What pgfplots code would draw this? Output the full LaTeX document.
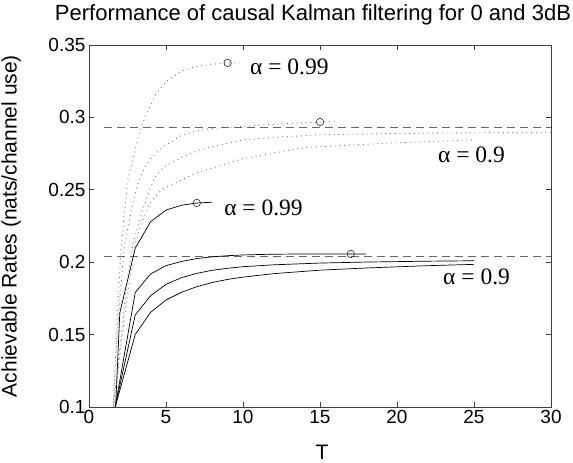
\documentclass[border=0pt]{standalone}
\usepackage{fontspec}
\setmainfont{Liberation Sans}
\newfontfamily\lserif{Liberation Serif}
\usepackage{pgfplots}
\pgfplotsset{compat=1.18}
\begin{document}
\begin{tikzpicture}
\useasboundingbox (0,0) rectangle (573pt,463pt);
\begin{axis}[
  at={(89pt,56pt)}, anchor=south west,
  scale only axis, width=462pt, height=362pt,
  xmin=0, xmax=30, ymin=0.1, ymax=0.35,
  xtick={0,5,10,15,20,25,30},
  ytick={0.1,0.15,0.2,0.25,0.3,0.35},
  yticklabels={0.1,0.15,0.2,0.25,0.3,0.35},
  tick align=inside,
  major tick length=5pt,
  tick style={black!75, line width=0.6pt},
  axis line style={black!75, line width=0.7pt},
  tick label style={font=\fontsize{19}{19}\selectfont},
  /pgf/number format/assume math mode=true,
  clip=true,
]
% dashed limits
\addplot[black!60, line width=1pt, dash pattern=on 8pt off 5pt] coordinates {(1,0.2927) (30,0.2927)};
\addplot[black!60, line width=1pt, dash pattern=on 8pt off 5pt] coordinates {(1,0.2036) (30,0.2036)};
% dotted (3dB)
\addplot[black!55, line width=0.9pt, dash pattern=on 0.9pt off 3.8pt] coordinates {
(1.55,0.095)(1.7,0.13)(1.85,0.165)(2,0.196)(2.12,0.213)(2.25,0.228)(2.5,0.2556)(2.75,0.267)(3,0.2775)(3.35,0.2925)(3.8,0.304)(4.3,0.3155)(5,0.3247)(6,0.332)(7,0.3352)(8,0.3368)(9,0.3376)(10,0.3378)};
\addplot[black!55, line width=0.9pt, dash pattern=on 0.9pt off 3.8pt] coordinates {
(1.55,0.093)(1.75,0.135)(2,0.175)(2.29,0.2107)(2.55,0.2245)(2.88,0.243)(3.2,0.2556)(3.5,0.263)(4,0.2715)(4.5,0.277)(5,0.281)(6,0.2875)(7.4,0.2918)(9.8,0.2936)(12.4,0.2955)(15,0.2968)(16,0.297)};
\addplot[black!55, line width=0.9pt, dash pattern=on 0.9pt off 3.8pt] coordinates {
(1.55,0.097)(2,0.14)(2.4,0.18)(2.77,0.2084)(3.1,0.222)(3.4,0.2337)(3.85,0.2476)(4.3,0.259)(4.9,0.266)(6.2,0.2733)(7.3,0.278)(10,0.2845)(12.5,0.2865)(15,0.288)(20,0.2889)(25,0.2894)(30,0.2896)};
\addplot[black!55, line width=0.9pt, dash pattern=on 0.9pt off 3.8pt] coordinates {
(1.55,0.098)(2,0.135)(2.5,0.178)(3,0.213)(3.4,0.2268)(3.96,0.2407)(4.7,0.25)(5.8,0.2556)(6.9,0.2614)(8,0.265)(10,0.2715)(13.7,0.2787)(15,0.2798)(20,0.2825)(25,0.2844)};
% solid (0dB)
\addplot[black, line width=0.7pt] coordinates {
(1.6,0.069)(2,0.165)(3,0.2096)(4,0.228)(5,0.236)(6,0.2393)(7,0.2409)(8,0.2414)};
\addplot[black, line width=0.7pt] coordinates {
(1.6,0.094)(2,0.118)(3,0.179)(4,0.1919)(5,0.1976)(6,0.2005)(7,0.2025)(8,0.2037)(9,0.2045)(10,0.205)(11,0.2053)(12,0.2055)(13,0.2056)(14,0.2057)(15,0.2057)(16,0.2057)(17,0.2057)(18,0.2057)};
\addplot[black, line width=0.7pt] coordinates {
(1.6,0.095)(2,0.1146)(3,0.1635)(4,0.1769)(5,0.1847)(6,0.1893)(7,0.1923)(8,0.1944)(9,0.1958)(10,0.1969)(12,0.1982)(15,0.1994)(18,0.2001)(20,0.2004)(22,0.2007)(25,0.201)};
\addplot[black, line width=0.7pt] coordinates {
(1.6,0.096)(2,0.1115)(3,0.150)(4,0.1654)(5,0.1739)(6,0.1792)(7,0.1831)(8,0.186)(9,0.1881)(10,0.1897)(12,0.1921)(15,0.1945)(18,0.196)(20,0.1968)(22,0.1976)(25,0.1985)};
% circles
\addplot[only marks, mark=o, mark size=3.7pt, black!85, mark options={line width=0.6pt}] coordinates {(9,0.3376)(15,0.2968)(7,0.2409)(17,0.2057)};
% alpha labels
\node[anchor=west, inner sep=0pt] at (axis cs:10.45,0.3348) {\lserif\fontsize{23.5}{23.5}\selectfont α = 0.99};
\node[anchor=west, inner sep=0pt] at (axis cs:22.66,0.274) {\lserif\fontsize{23.5}{23.5}\selectfont α = 0.9};
\node[anchor=west, inner sep=0pt] at (axis cs:8.77,0.2374) {\lserif\fontsize{23.5}{23.5}\selectfont α = 0.99};
\node[anchor=west, inner sep=0pt] at (axis cs:22.99,0.1898) {\lserif\fontsize{23.5}{23.5}\selectfont α = 0.9};
\end{axis}
\node[anchor=base, inner sep=0pt] at (313pt,442pt) {\fontsize{22}{22}\selectfont Performance of causal Kalman filtering for 0 and 3dB};
\node[rotate=90, anchor=base, inner sep=0pt] at (16.7pt,237pt) {\fontsize{21}{21}\selectfont Achievable Rates (nats/channel use)};
\node[anchor=base, inner sep=0pt] at (322pt,3pt) {\fontsize{21}{21}\selectfont T};
\end{tikzpicture}
\end{document}
